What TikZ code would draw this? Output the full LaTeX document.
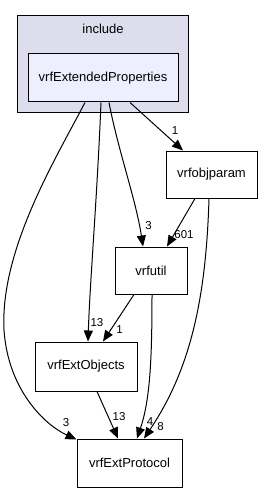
\documentclass[tikz,border=0pt]{standalone}
\usepackage{fontspec}
\setmainfont{Liberation Sans}
\usetikzlibrary{arrows.meta,calc}
\definecolor{clfill}{HTML}{DDDDEE}
\definecolor{epfill}{HTML}{EEEEFF}
\tikzset{
  box/.style={draw=black, line width=1pt, fill=white, inner sep=0pt, font=\fontsize{13}{15}\selectfont},
  dep/.style={draw=black, line width=1pt, -{Triangle[length=11pt,width=9pt]}},
  lbl/.style={inner sep=0pt, font=\fontsize{11.5}{13}\selectfont},
}
\begin{document}
\begin{tikzpicture}[x=1pt,y=-1pt]
\useasboundingbox (0,0) rectangle (262,492);
% cluster
\node[draw=black, line width=1pt, fill=clfill, minimum width=171pt, minimum height=97pt, inner sep=0pt] (incl) at (102.5,64.5) {};
\node[lbl, font=\fontsize{13}{15}\selectfont] (incltxt) at (103,29) {include};
% nodes
\node[box, fill=epfill, minimum width=150pt, minimum height=48pt] (ep) at (103,78) {vrfExtendedProperties};
\node[box, minimum width=91pt, minimum height=47pt] (op) at (211.5,174.5) {vrfobjparam};
\node[box, minimum width=72pt, minimum height=47pt] (ut) at (151,270.5) {vrfutil};
\node[box, minimum width=102pt, minimum height=49pt] (eo) at (86,366.5) {vrfExtObjects};
\node[box, minimum width=105pt, minimum height=48pt] (pr) at (129.5,463) {vrfExtProtocol};
% edges
\draw[dep] ($(ep.south)+(27,0)$) -- ($(op.north)+(-28.5,0)$);
\node[lbl] (l1) at (175,131) {1};
\draw[dep] ($(ep.south)+(6,0)$) .. controls (118,150) and (136,200) .. ($(ut.north)+(-8,0)$);
\node[lbl] (l2) at (148.5,226) {3};
\draw[dep] ($(ep.south)+(-2,0)$) .. controls (97,200) and (90,280) .. ($(eo.north)+(2,0)$);
\node[lbl] (l3) at (97,323) {13};
\draw[dep] ($(ep.south)+(-18,0)$) .. controls (55,160) and (0,250) .. (4,330) .. controls (8,390) and (45,425) .. ($(pr.north west)+(0,1)$);
\node[lbl] (l4) at (66,423) {3};
\draw[dep] ($(op.south)+(-16.5,0)$) -- ($(ut.north)+(16,0)$);
\node[lbl] (l5) at (184,235) {601};
\draw[dep] ($(op.south)+(-2.5,0)$) .. controls (206,300) and (190,370) .. ($(pr.north)+(14.5,0)$);
\node[lbl] (l6) at (160.5,427) {8};
\draw[dep] ($(ut.south)+(-17,0)$) -- ($(eo.north)+(17,0)$);
\node[lbl] (l7) at (119.5,330) {1};
\draw[dep] ($(ut.south)+(1,0)$) .. controls (152,360) and (150,400) .. ($(pr.north)+(7.5,0)$);
\node[lbl] (l8) at (150,422) {4};
\draw[dep] ($(eo.south)+(11,0)$) -- ($(pr.north)+(-11.5,0)$);
\node[lbl] (l9) at (119,417) {13};
\end{tikzpicture}
\end{document}
